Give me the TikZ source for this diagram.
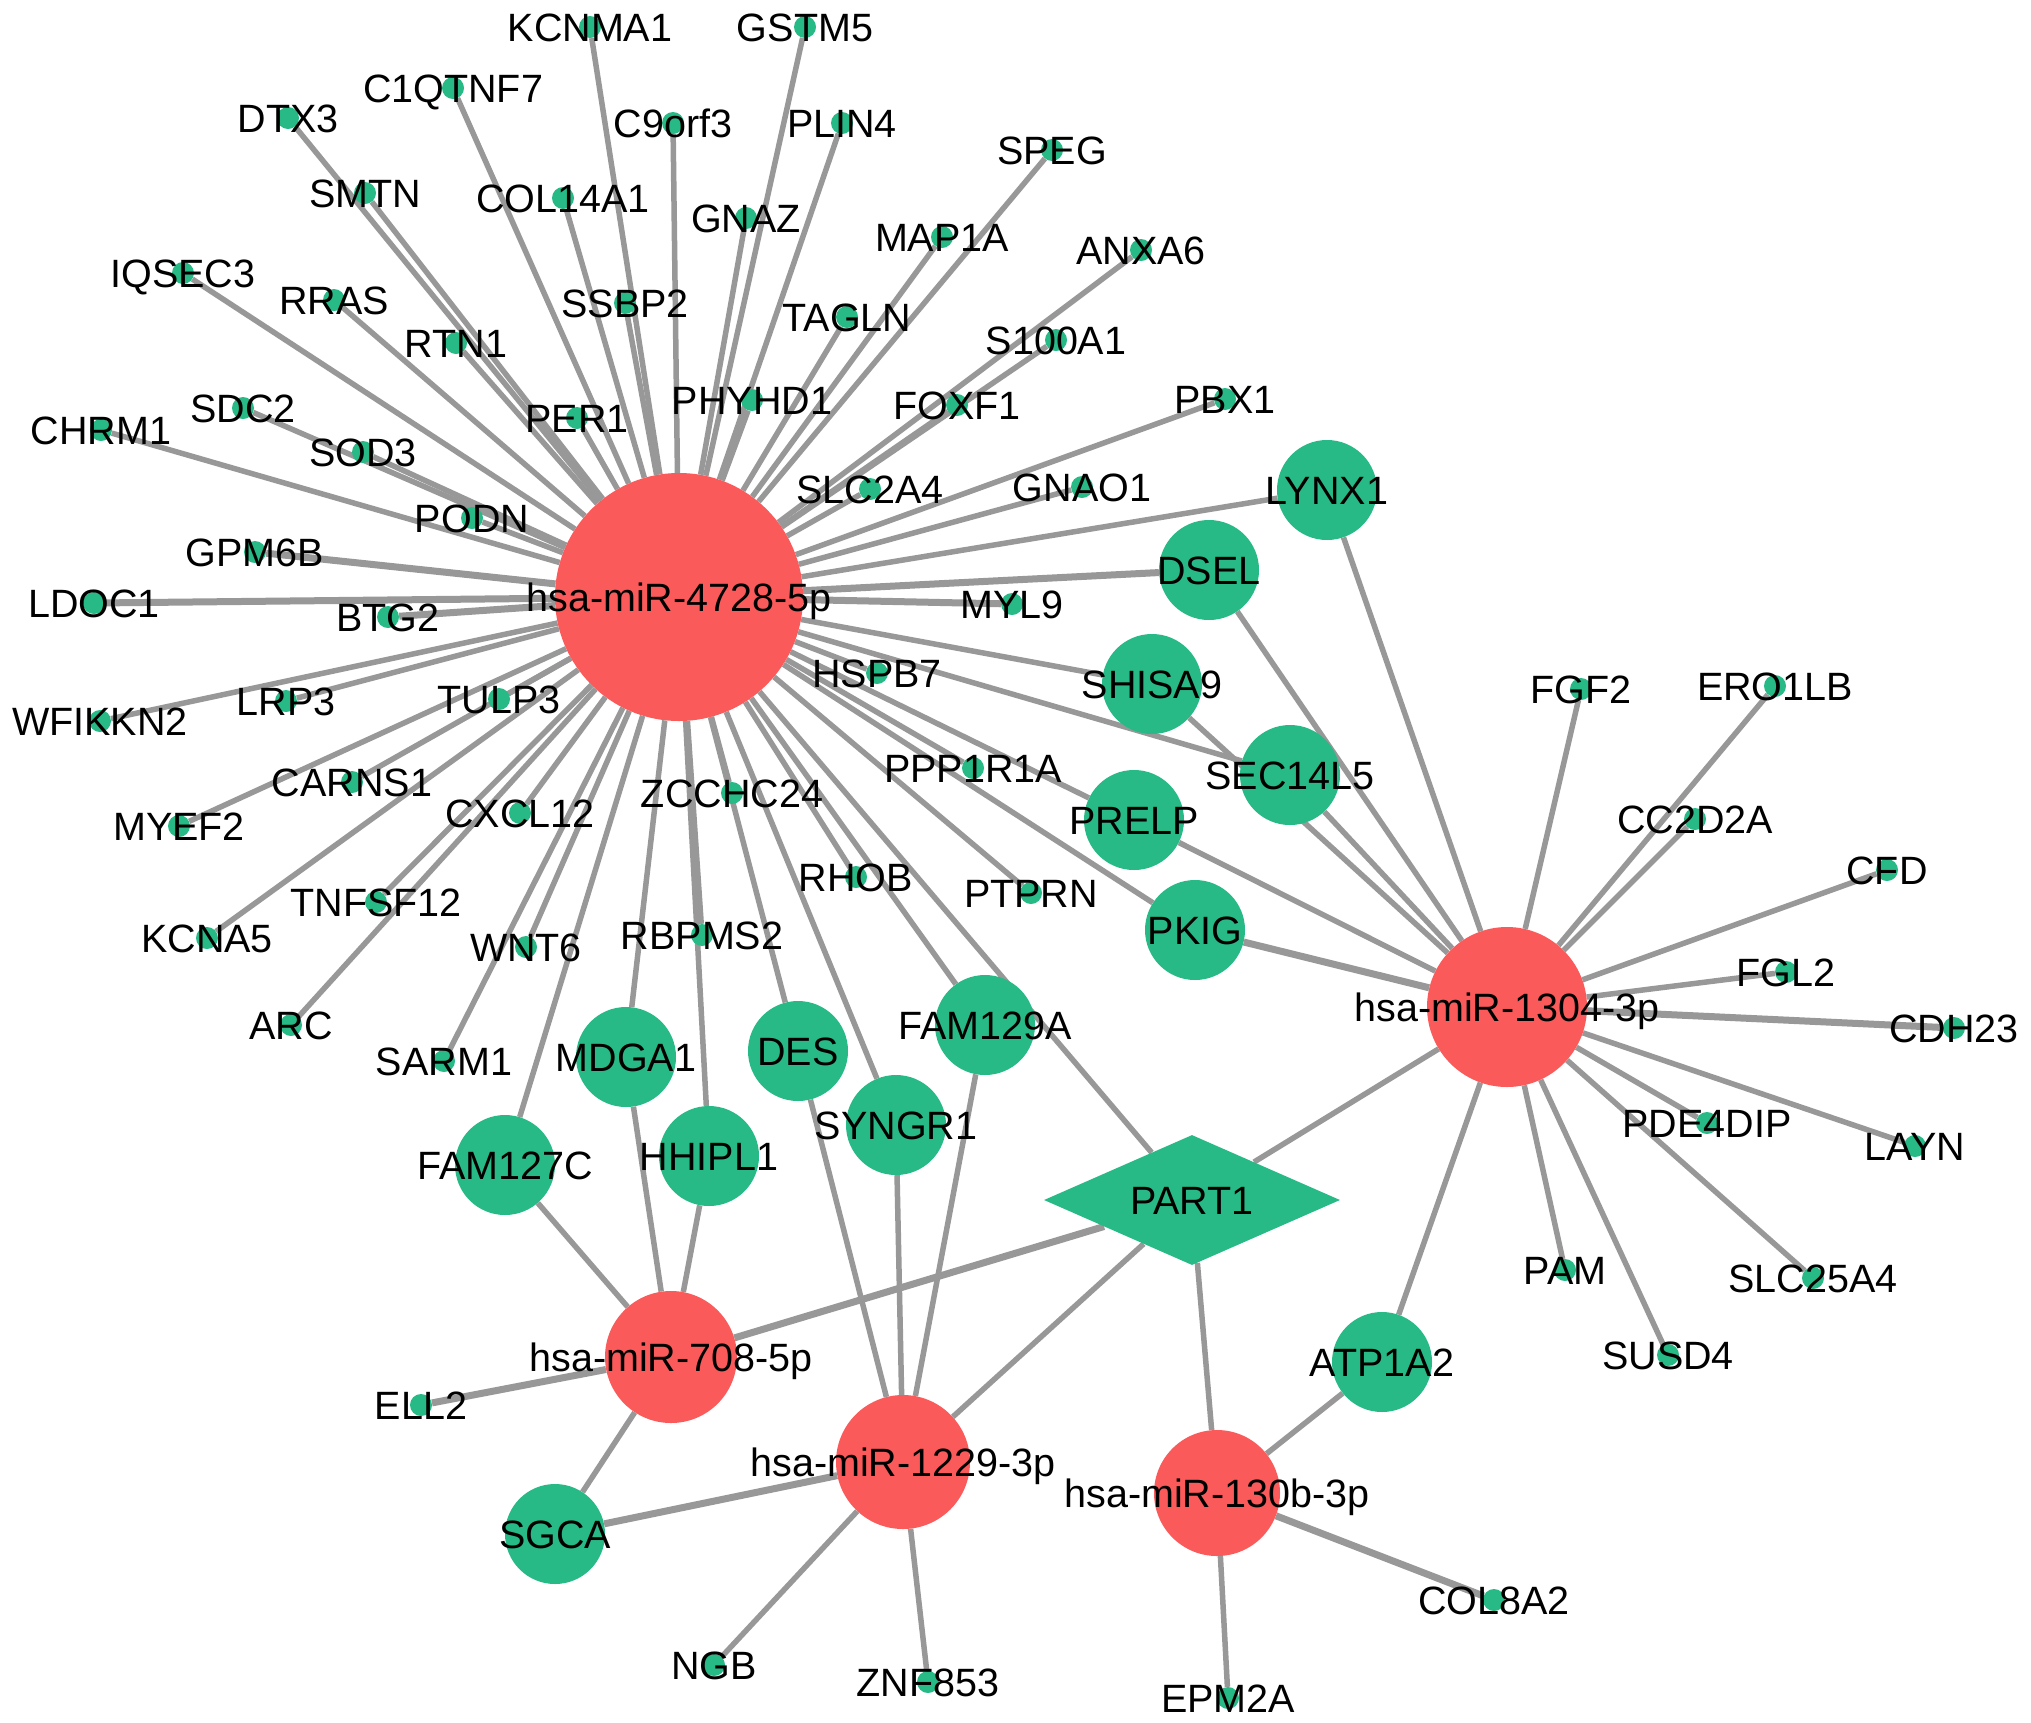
\documentclass[tikz,border=0pt]{standalone}
\usepackage{fontspec}
\setmainfont{Liberation Sans}
\usetikzlibrary{shapes.geometric}
\pgfdeclarelayer{bg}
\pgfsetlayers{bg,main}
\definecolor{mired}{RGB}{250,90,90}
\definecolor{mgreen}{RGB}{40,186,134}
\definecolor{egray}{RGB}{152,152,152}
\newcommand\gdot[3]{\node[dotn,label={[lbl]center:#3}] (#1) at (#2) {};}
\newcommand\gmed[3]{\node[med,label={[lbl]center:#3}] (#1) at (#2) {};}
\begin{document}
\begin{tikzpicture}[x=1pt,y=-1pt,
  lbl/.style={font=\fontsize{39.5}{39.5}\selectfont, text=black, inner sep=0pt, text height=28.3pt, text depth=0pt},
  dotn/.style={circle, fill=mgreen, minimum size=22pt, inner sep=0pt},
  med/.style={circle, fill=mgreen, minimum size=100pt, inner sep=0pt},
  hubn/.style={circle, fill=mired, inner sep=0pt},
  edge/.style={draw=egray, line width=5.5pt},
  thickedge/.style={draw=egray, line width=7pt}]
\useasboundingbox (0,0) rectangle (2031,1722);
% hubs
\node[hubn, minimum size=248pt, label={[lbl]center:hsa-miR-4728-5p}] (m4728) at (679,597) {};
\node[hubn, minimum size=160pt, label={[lbl]center:hsa-miR-1304-3p}] (m1304) at (1507,1007) {};
\node[hubn, minimum size=132pt, label={[lbl]center:hsa-miR-708-5p}] (m708) at (671,1357) {};
\node[hubn, minimum size=134pt, label={[lbl]center:hsa-miR-1229-3p}] (m1229) at (903,1462) {};
\node[hubn, minimum size=126pt, label={[lbl]center:hsa-miR-130b-3p}] (m130b) at (1217,1493) {};
% PART1
\node[diamond, fill=mgreen, minimum width=296pt, minimum height=130pt, inner sep=0pt, label={[lbl]center:PART1}] (part1) at (1192,1200) {};
% medium nodes
\gmed{lynx1}{1327,490}{LYNX1}
\gmed{dsel}{1209,570}{DSEL}
\gmed{shisa9}{1152,684}{SHISA9}
\gmed{sec14l5}{1290,775}{SEC14L5}
\gmed{prelp}{1134,820}{PRELP}
\gmed{pkig}{1195,930}{PKIG}
\gmed{fam129a}{985,1025}{FAM129A}
\gmed{mdga1}{626,1057}{MDGA1}
\gmed{des}{798,1051}{DES}
\gmed{syngr1}{896,1125}{SYNGR1}
\gmed{hhipl1}{709,1156}{HHIPL1}
\gmed{fam127c}{505,1165}{FAM127C}
\gmed{atp1a2}{1382,1362}{ATP1A2}
\gmed{sgca}{555,1534}{SGCA}
% small nodes of hsa-miR-4728-5p
\gdot{kcnma1}{590,27}{KCNMA1}
\gdot{gstm5}{805,27}{GSTM5}
\gdot{c1qtnf7}{453,88}{C1QTNF7}
\gdot{dtx3}{288,118}{DTX3}
\gdot{c9orf3}{673,123}{C9orf3}
\gdot{plin4}{842,123}{PLIN4}
\gdot{speg}{1052,150}{SPEG}
\gdot{smtn}{365,193}{SMTN}
\gdot{col14a1}{563,198}{COL14A1}
\gdot{gnaz}{746,218}{GNAZ}
\gdot{map1a}{942,237}{MAP1A}
\gdot{anxa6}{1141,250}{ANXA6}
\gdot{iqsec3}{183,273}{IQSEC3}
\gdot{rras}{334,300}{RRAS}
\gdot{ssbp2}{625,303}{SSBP2}
\gdot{tagln}{847,317}{TAGLN}
\gdot{rtn1}{456,343}{RTN1}
\gdot{s100a1}{1056,340}{S100A1}
\gdot{phyhd1}{752,400}{PHYHD1}
\gdot{foxf1}{957,405}{FOXF1}
\gdot{sdc2}{243,408}{SDC2}
\gdot{per1}{577,418}{PER1}
\gdot{chrm1}{101,430}{CHRM1}
\gdot{sod3}{363,452}{SOD3}
\gdot{pbx1}{1225,399}{PBX1}
\gdot{slc2a4}{870,489}{SLC2A4}
\gdot{gnao1}{1082,487}{GNAO1}
\gdot{podn}{472,518}{PODN}
\gdot{gpm6b}{255,552}{GPM6B}
\gdot{ldoc1}{94,603}{LDOC1}
\gdot{btg2}{388,617}{BTG2}
\gdot{myl9}{1012,604}{MYL9}
\gdot{wfikkn2}{100,721}{WFIKKN2}
\gdot{lrp3}{286,701}{LRP3}
\gdot{tulp3}{499,699}{TULP3}
\gdot{hspb7}{877,673}{HSPB7}
\gdot{carns1}{352,782}{CARNS1}
\gdot{myef2}{179,826}{MYEF2}
\gdot{cxcl12}{520,813}{CXCL12}
\gdot{zcchc24}{732,793}{ZCCHC24}
\gdot{ppp1r1a}{973,768}{PPP1R1A}
\gdot{tnfsf12}{376,902}{TNFSF12}
\gdot{kcna5}{207,938}{KCNA5}
\gdot{wnt6}{526,947}{WNT6}
\gdot{rbpms2}{702,935}{RBPMS2}
\gdot{rhob}{856,877}{RHOB}
\gdot{ptprn}{1031,893}{PTPRN}
\gdot{arc}{291,1025}{ARC}
\gdot{sarm1}{444,1061}{SARM1}
% small nodes of hsa-miR-1304-3p
\gdot{fgf2}{1581,689}{FGF2}
\gdot{ero1lb}{1775,686}{ERO1LB}
\gdot{cc2d2a}{1695,819}{CC2D2A}
\gdot{cfd}{1887,870}{CFD}
\gdot{fgl2}{1786,972}{FGL2}
\gdot{cdh23}{1954,1028}{CDH23}
\gdot{pde4dip}{1707,1123}{PDE4DIP}
\gdot{layn}{1915,1146}{LAYN}
\gdot{pam}{1565,1270}{PAM}
\gdot{slc25a4}{1813,1278}{SLC25A4}
\gdot{susd4}{1668,1355}{SUSD4}
% other small nodes
\gdot{ell2}{421,1405}{ELL2}
\gdot{ngb}{714,1665}{NGB}
\gdot{znf853}{928,1682}{ZNF853}
\gdot{col8a2}{1494,1600}{COL8A2}
\gdot{epm2a}{1228,1698}{EPM2A}
% edges
\begin{pgfonlayer}{bg}
\fill[white] (0,0) rectangle (2031,1722);
\foreach \n in {kcnma1,gstm5,c1qtnf7,dtx3,c9orf3,plin4,speg,smtn,col14a1,gnaz,map1a,anxa6,iqsec3,rras,ssbp2,tagln,rtn1,s100a1,phyhd1,foxf1,sdc2,per1,chrm1,sod3,pbx1,slc2a4,gnao1,podn,wfikkn2,lrp3,tulp3,hspb7,carns1,myef2,cxcl12,zcchc24,ppp1r1a,tnfsf12,kcna5,wnt6,rbpms2,rhob,ptprn,arc,sarm1,lynx1,shisa9,sec14l5,prelp,pkig,fam129a,part1,des,syngr1,mdga1,hhipl1,fam127c}
  \draw[edge] (m4728) -- (\n);
\foreach \n in {ldoc1,gpm6b,btg2,myl9,dsel}
  \draw[thickedge] (m4728) -- (\n);
\foreach \n in {lynx1,dsel,shisa9,sec14l5,prelp,part1,atp1a2,fgf2,ero1lb,cc2d2a,cfd,fgl2,layn,pde4dip,slc25a4,susd4,pam}
  \draw[edge] (m1304) -- (\n);
\foreach \n in {pkig,cdh23}
  \draw[thickedge] (m1304) -- (\n);
\foreach \n in {fam127c,mdga1,hhipl1,sgca}
  \draw[edge] (m708) -- (\n);
\foreach \n in {part1,ell2}
  \draw[thickedge] (m708) -- (\n);
\foreach \n in {des,syngr1,fam129a,part1,ngb,znf853}
  \draw[edge] (m1229) -- (\n);
\draw[thickedge] (m1229) -- (sgca);
\foreach \n in {part1,atp1a2,epm2a}
  \draw[edge] (m130b) -- (\n);
\draw[thickedge] (m130b) -- (col8a2);
\end{pgfonlayer}
\end{tikzpicture}
\end{document}
